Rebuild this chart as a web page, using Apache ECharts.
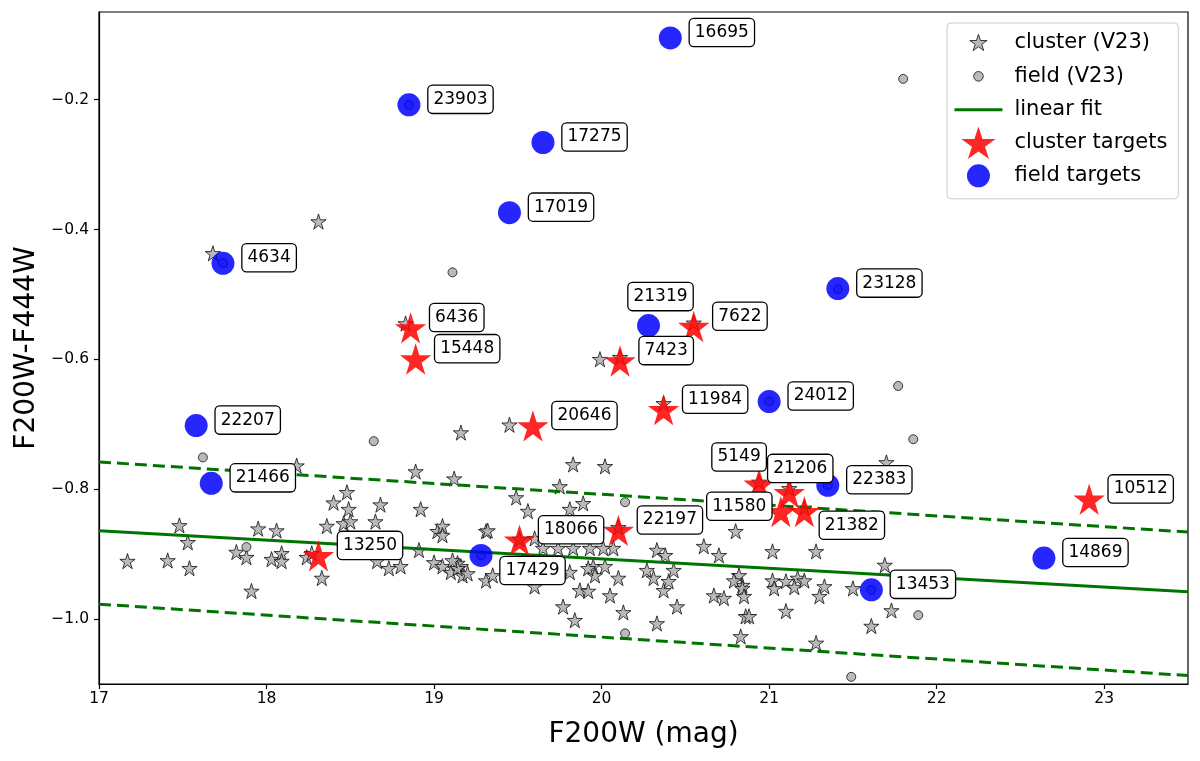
<!DOCTYPE html>
<html><head><meta charset="utf-8">
<script src="https://cdn.jsdelivr.net/npm/echarts@6/dist/echarts.min.js"></script>
<style>html,body{margin:0;padding:0;background:#fff}#c{width:1200px;height:761px}</style>
</head><body><div id="c"></div>
<script>
// ---------------- data ----------------
const xTicks = [17, 18, 19, 20, 21, 22, 23];
const yTicks = [-1.0, -0.8, -0.6, -0.4, -0.2];

// cluster members (V23): [F200W, F200W-F444W]
const clusterV23 = [
  [17.17,-0.912],[17.41,-0.911],[17.54,-0.923],[17.48,-0.857],[17.53,-0.883],[17.91,-0.958],
  [17.82,-0.898],[17.88,-0.906],[17.95,-0.862],[18.06,-0.865],[18.03,-0.909],[18.09,-0.900],
  [18.09,-0.912],[18.18,-0.765],[18.24,-0.906],[18.33,-0.938],[18.36,-0.858],[18.40,-0.822],
  [18.48,-0.806],[18.49,-0.832],[18.46,-0.854],[18.50,-0.851],[18.68,-0.825],[18.65,-0.851],
  [18.89,-0.774],[18.92,-0.832],[18.73,-0.923],[18.80,-0.920],[18.66,-0.912],[18.91,-0.895],
  [19.02,-0.866],[19.05,-0.858],[19.12,-0.785],[19.31,-0.866],[18.27,-0.900],[19.00,-0.914],
  [19.05,-0.920],[19.10,-0.929],[19.16,-0.920],[19.17,-0.934],[19.14,-0.915],[19.31,-0.942],
  [17.68,-0.438],[18.31,-0.389],[19.99,-0.601],[19.16,-0.714],[19.45,-0.702],[19.83,-0.763],
  [20.02,-0.766],[19.75,-0.797],[19.49,-0.814],[19.56,-0.835],[19.81,-0.832],[19.89,-0.823],
  [19.32,-0.865],[19.35,-0.934],[19.60,-0.951],[19.81,-0.929],[19.95,-0.920],[19.96,-0.934],
  [19.87,-0.957],[19.92,-0.958],[20.05,-0.965],[20.10,-0.938],[19.77,-0.982],[19.84,-1.003],
  [20.13,-0.991],[20.33,-1.008],[20.45,-0.982],[20.37,-0.957],[20.31,-0.938],[20.40,-0.943],
  [20.27,-0.926],[20.33,-0.895],[20.38,-0.903],[20.43,-0.926],[20.61,-0.889],[20.70,-0.903],
  [20.67,-0.965],[20.73,-0.969],[20.80,-0.866],[20.07,-0.892],[20.02,-0.920],[19.74,-0.892],
  [19.83,-0.892],[19.92,-0.923],[19.71,-0.872],[19.65,-0.892],[19.60,-0.877],[19.05,-0.872],
  [19.14,-0.923],[19.20,-0.931],[19.11,-0.911],[20.82,-0.934],[20.84,-0.949],[20.86,-0.997],
  [20.83,-1.028],[20.79,-0.942],[20.84,-0.954],[20.85,-0.966],[21.02,-0.942],[21.03,-0.954],
  [21.10,-0.943],[21.17,-0.938],[21.15,-0.952],[21.21,-0.942],[21.33,-0.951],[21.30,-0.966],
  [21.50,-0.954],[21.73,-0.988],[21.61,-1.012],[21.10,-0.989],[20.88,-0.997],[21.28,-1.038],
  [21.02,-0.897],[21.28,-0.897],[21.69,-0.918],[21.70,-0.760],[18.83,-0.546],[20.55,-0.545],
  [20.37,-0.669],[20.11,-0.598],[20.94,-0.790],[21.12,-0.800],[21.21,-0.830],[19.51,-0.878],
  [20.10,-0.860],[19.93,-0.892],[20.01,-0.892]
];

// field objects (V23)
const fieldV23 = [
  [17.62,-0.751],[18.64,-0.726],[19.11,-0.466],[21.80,-0.168],[21.77,-0.641],[21.86,-0.723],
  [21.89,-0.994],[21.49,-1.089],[20.14,-0.820],[20.14,-1.022],[17.88,-0.889],[18.85,-0.208],
  [21.41,-0.492],[21.00,-0.665],[17.74,-0.452],[21.35,-0.794],[21.61,-0.955],[19.28,-0.902]
];

// linear fit and its envelope, evaluated at the axis ends
const fitX = [17, 23.5];
const fitY = [-0.864, -0.958];
const upperY = [-0.758, -0.866];
const lowerY = [-0.977, -1.087];

// cluster targets
const clusterTargetIds = ['6436','15448','7423','7622','11984','20646','5149','21206','11580','21382','22197','18066','13250','10512'];
const clusterTargetX = [18.86, 18.89, 20.11, 20.55, 20.37, 19.59, 20.94, 21.12, 21.07, 21.21, 20.10, 19.51, 18.31, 22.91];
const clusterTargetY = [-0.554, -0.602, -0.605, -0.552, -0.680, -0.705, -0.795, -0.808, -0.837, -0.837, -0.866, -0.881, -0.905, -0.818];

// field targets
const fieldTargetIds = ['16695','23903','17275','17019','4634','23128','21319','24012','22207','21466','22383','17429','13453','14869'];
const fieldTargetX = [20.41, 18.85, 19.65, 19.45, 17.74, 21.41, 20.28, 21.00, 17.58, 17.67, 21.35, 19.28, 21.61, 22.64];
const fieldTargetY = [-0.105, -0.208, -0.266, -0.374, -0.452, -0.491, -0.548, -0.665, -0.702, -0.791, -0.794, -0.902, -0.955, -0.906];

// ---------------- styling helpers ----------------
const FONT = 'DejaVu Sans';
function starPath(cx, cy, R) {
  let d = '';
  for (let k = 0; k < 10; k++) {
    const a = (-90 + 36 * k) * Math.PI / 180;
    const r = (k % 2) ? R * 0.381966 : R;
    d += (k ? 'L' : 'M') + (cx + r * Math.cos(a)).toFixed(3) + ' ' + (cy + r * Math.sin(a)).toFixed(3) + ' ';
  }
  return d + 'Z';
}
const STAR = 'path://M0 10 ' + starPath(0, 0, 10);
const LW = 62, LH = 33;
function legendStar(R) { return 'path://M0 0 M' + LW + ' ' + LH + ' ' + starPath(LW / 2, LH / 2 + 0.0955 * R, R); }
function legendCircle(r) {
  const cx = LW / 2, cy = LH / 2;
  return 'path://M0 0 M' + LW + ' ' + LH + ' M' + (cx - r) + ' ' + cy + ' A' + r + ' ' + r + ' 0 1 1 ' + (cx + r) + ' ' + cy +
         ' A' + r + ' ' + r + ' 0 1 1 ' + (cx - r) + ' ' + cy + ' Z';
}
const legendLine = 'path://M0 0 M' + LW + ' ' + LH + ' M7 15 L55 15 L55 18 L7 18 Z';

const GREEN = '#007400';
const GREY = '#b2b2b2';
const EDGE = '#111';
const labelBox = {
  show: true, formatter: '{b}', fontSize: 17, fontFamily: FONT, color: '#000', opacity: 1,
  backgroundColor: '#fff', borderColor: '#000', borderWidth: 1.3, borderRadius: 4,
  padding: [4, 5, 3, 5], lineHeight: 20
};
const labelPlacement = {
  '21319': { position: 'inside', offset: [12, -29] },
  '5149':  { position: 'inside', offset: [-20, -29] },
  '21206': { position: 'inside', offset: [11, -26] },
  '11580': { position: 'left', distance: 9, offset: [0, -7] },
  '21382': { position: 'right', distance: 15, offset: [0, 12] },
  '17429': { position: 'right', distance: 19, offset: [0, 15] }
};
const labelData = [];
clusterTargetIds.forEach((id, i) => {
  labelData.push({ name: id, value: [clusterTargetX[i], clusterTargetY[i]],
    label: labelPlacement[id] || { position: 'right', distance: 19, offset: [0, -12] } });
});
fieldTargetIds.forEach((id, i) => {
  labelData.push({ name: id, value: [fieldTargetX[i], fieldTargetY[i]],
    label: labelPlacement[id] || { position: 'right', distance: 19, offset: [0, -5.5] } });
});

const chart = echarts.init(document.getElementById('c'), null, { renderer: 'canvas' });
chart.setOption({
  animation: false,
  backgroundColor: '#fff',
  grid: { left: 99, right: 12, top: 12, bottom: 77, show: true, borderColor: '#000', borderWidth: 1.2, backgroundColor: 'transparent' },
  xAxis: {
    type: 'value', min: 17, max: 23.5,
    splitLine: { show: false },
    axisLine: { show: true, onZero: false, lineStyle: { color: '#000', width: 1.2 } },
    axisTick: { show: true, length: 5, customValues: xTicks, lineStyle: { color: '#000', width: 1.2 } },
    axisLabel: { customValues: xTicks, fontSize: 15.5, fontFamily: FONT, color: '#000', margin: 7, formatter: v => String(v) },
    name: 'F200W (mag)', nameLocation: 'middle', nameGap: 37,
    nameTextStyle: { fontSize: 28, fontFamily: FONT, color: '#000' }
  },
  yAxis: {
    type: 'value', min: -1.1, max: -0.065,
    splitLine: { show: false },
    axisLine: { show: true, onZero: false, lineStyle: { color: '#000', width: 1.2 } },
    axisTick: { show: true, length: 5, customValues: yTicks, lineStyle: { color: '#000', width: 1.2 } },
    axisLabel: { customValues: yTicks, fontSize: 15.5, fontFamily: FONT, color: '#000', margin: 10,
      formatter: v => (v < 0 ? '\u2212' : '') + Math.abs(v).toFixed(1) },
    name: 'F200W-F444W', nameLocation: 'middle', nameGap: 52,
    nameTextStyle: { fontSize: 28, fontFamily: FONT, color: '#000' }
  },
  legend: {
    orient: 'vertical', left: 947, top: 23,
    padding: [2.5, 11, 6.5, 0],
    itemWidth: LW, itemHeight: LH, itemGap: 0,
    backgroundColor: 'rgba(255,255,255,0.85)', borderColor: '#cccccc', borderWidth: 1, borderRadius: 4,
    textStyle: { fontSize: 21, fontFamily: FONT, color: '#000' },
    selectedMode: false,
    data: [
      { name: 'cluster (V23)', icon: legendStar(9), itemStyle: { color: GREY, borderColor: EDGE, borderWidth: 0.9, opacity: 0.9 } },
      { name: 'field (V23)', icon: legendCircle(4.8), itemStyle: { color: GREY, borderColor: EDGE, borderWidth: 0.9, opacity: 0.9 } },
      { name: 'linear fit', icon: legendLine, itemStyle: { color: GREEN, borderWidth: 0, opacity: 1 } },
      { name: 'cluster targets', icon: legendStar(18), itemStyle: { color: '#ff0000', borderWidth: 0, opacity: 0.85 } },
      { name: 'field targets', icon: legendCircle(11.5), itemStyle: { color: '#0000ff', borderWidth: 0, opacity: 0.85 } }
    ]
  },
  series: [
    { name: 'cluster (V23)', type: 'scatter', data: clusterV23, symbol: STAR, symbolSize: [16, 16.8], symbolKeepAspect: true,
      itemStyle: { color: GREY, borderColor: EDGE, borderWidth: 0.9, opacity: 0.9 }, z: 2, silent: true },
    { name: 'field (V23)', type: 'scatter', data: fieldV23, symbol: 'circle', symbolSize: 9,
      itemStyle: { color: GREY, borderColor: EDGE, borderWidth: 0.9, opacity: 0.9 }, z: 2, silent: true },
    { name: 'linear fit', type: 'line', data: fitX.map((x, i) => [x, fitY[i]]), symbol: 'none',
      lineStyle: { color: GREEN, width: 3 }, itemStyle: { color: GREEN }, z: 3, silent: true },
    { name: 'upper', type: 'line', data: fitX.map((x, i) => [x, upperY[i]]), symbol: 'none',
      lineStyle: { color: GREEN, width: 3, type: 'dashed' }, z: 3, silent: true },
    { name: 'lower', type: 'line', data: fitX.map((x, i) => [x, lowerY[i]]), symbol: 'none',
      lineStyle: { color: GREEN, width: 3, type: 'dashed' }, z: 3, silent: true },
    { name: 'cluster targets', type: 'scatter', data: clusterTargetX.map((x, i) => [x, clusterTargetY[i]]),
      symbol: STAR, symbolSize: [33, 34.7], symbolKeepAspect: true,
      itemStyle: { color: '#ff0000', opacity: 0.85 }, z: 4, silent: true },
    { name: 'field targets', type: 'scatter', data: fieldTargetX.map((x, i) => [x, fieldTargetY[i]]),
      symbol: 'circle', symbolSize: 23,
      itemStyle: { color: '#0000ff', opacity: 0.85 }, z: 5, silent: true },
    { name: 'ids', type: 'scatter', data: labelData, symbol: 'circle', symbolSize: 1,
      itemStyle: { color: 'rgba(0,0,0,0)', opacity: 1 }, label: labelBox, z: 10, silent: true, emphasis: { disabled: true } }
  ]
});
</script></body></html>
